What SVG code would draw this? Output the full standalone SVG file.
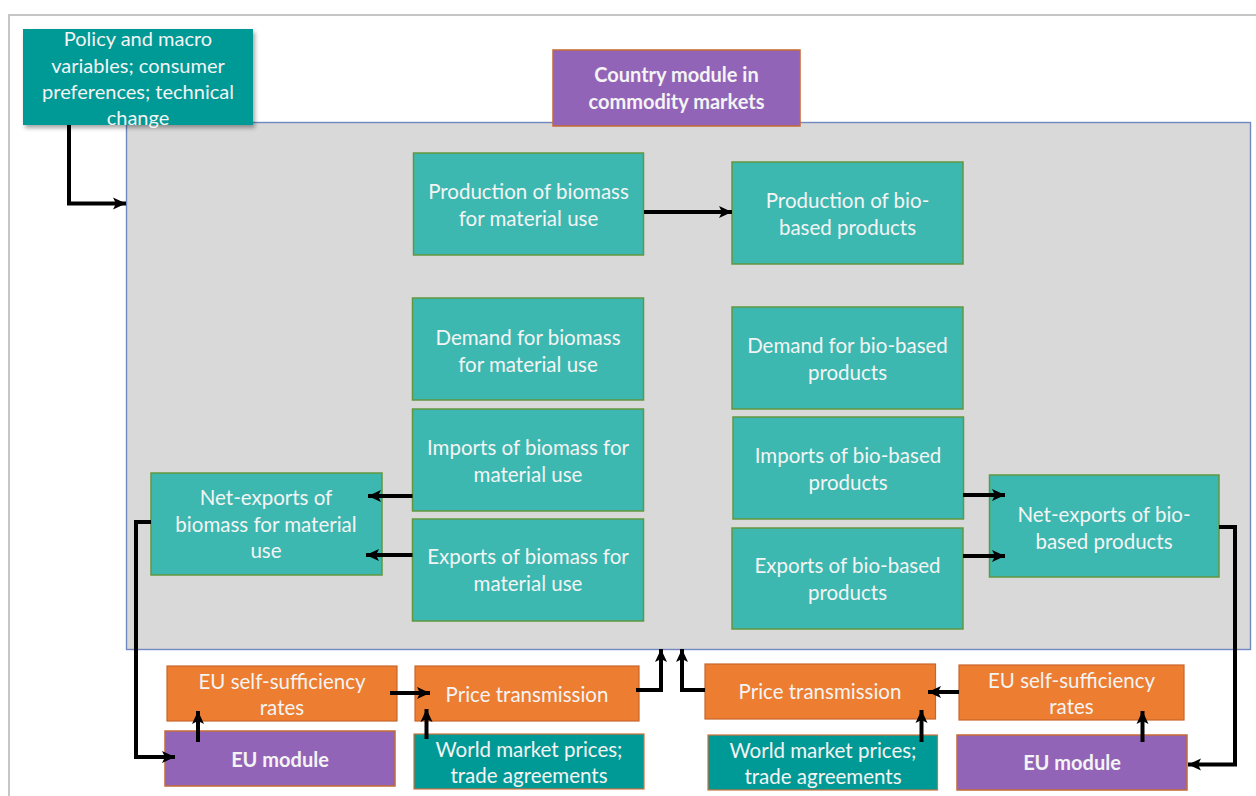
<svg xmlns="http://www.w3.org/2000/svg" width="1256" height="796" viewBox="0 0 1256 796">
  <defs>
    <marker id="arrow" markerUnits="userSpaceOnUse" markerWidth="14" markerHeight="14" viewBox="0 0 14 14" refX="13" refY="7" orient="auto">
      <path d="M0,1 L13,7 L0,13 L3,7 Z" fill="#000"/>
    </marker>
    <filter id="shadow" x="-10%" y="-10%" width="130%" height="140%">
      <feDropShadow dx="2" dy="3" stdDeviation="2" flood-color="#000" flood-opacity="0.35"/>
    </filter>
  </defs>
  <style>
    .frame { fill: none; stroke: #c6c6c6; stroke-width: 2; }
    .area { fill: #d9d9d9; stroke: #7089c0; stroke-width: 1.4; }
    .teal { fill: #3cb8b0; stroke: #62963f; stroke-width: 1.5; }
    .dark { fill: #009a96; stroke: #d0703a; stroke-width: 1.2; }
    .policy { fill: #009a96; }
    .orange { fill: #ed7d31; stroke: #c9652a; stroke-width: 1.2; }
    .purple { fill: #9264b8; stroke: #c56a36; stroke-width: 1.5; }
    text { font-family: Lato, "Noto Sans", "Liberation Sans", sans-serif; font-size: 20.5px; fill: #f4f4f4; text-anchor: middle; dominant-baseline: central; }
    .policy-text { font-size: 20px; }
    .bold { font-weight: bold; font-size: 20px; }
    .conn { fill: none; stroke: #000; stroke-width: 4; stroke-linejoin: miter; marker-end: url(#arrow); }
  </style>

  <!-- page frame -->
  <path class="frame" d="M9,796 V15 H1256"/>

  <!-- country module area -->
  <g id="country-area">
    <rect class="area" x="126.5" y="122.5" width="1124" height="527"/>
  </g>

  <g id="policy">
    <rect class="policy" x="23" y="29" width="230" height="96" filter="url(#shadow)"/>
    <text class="policy-text" x="138" y="38">Policy and macro</text>
    <text class="policy-text" x="138" y="64.5">variables; consumer</text>
    <text class="policy-text" x="138" y="90.5">preferences; technical</text>
    <text class="policy-text" x="138" y="117">change</text>
  </g>

  <g id="country-module">
    <rect class="purple" x="553" y="50" width="247" height="76"/>
    <text class="bold" x="676.5" y="74">Country module in</text>
    <text class="bold" x="676.5" y="101">commodity markets</text>
  </g>

  <g id="prod-biomass">
    <rect class="teal" x="413.5" y="153" width="230" height="102"/>
    <text x="528.5" y="191">Production of biomass</text>
    <text x="528.5" y="217.5">for material use</text>
  </g>

  <g id="prod-biobased">
    <rect class="teal" x="732" y="162" width="231" height="102"/>
    <text x="847.5" y="200">Production of bio-</text>
    <text x="847.5" y="226.5">based products</text>
  </g>

  <g id="demand-biomass">
    <rect class="teal" x="412.5" y="298" width="231" height="102"/>
    <text x="528" y="337">Demand for biomass</text>
    <text x="528" y="363.5">for material use</text>
  </g>

  <g id="demand-biobased">
    <rect class="teal" x="732" y="307" width="231" height="102"/>
    <text x="847.5" y="345">Demand for bio-based</text>
    <text x="847.5" y="371.5">products</text>
  </g>

  <g id="imports-biomass">
    <rect class="teal" x="412.5" y="409" width="231" height="102"/>
    <text x="528" y="447">Imports of biomass for</text>
    <text x="528" y="473.5">material use</text>
  </g>

  <g id="imports-biobased">
    <rect class="teal" x="733" y="417" width="230.5" height="102"/>
    <text x="848" y="455">Imports of bio-based</text>
    <text x="848" y="481.5">products</text>
  </g>

  <g id="exports-biomass">
    <rect class="teal" x="412.5" y="519" width="231" height="102"/>
    <text x="528" y="556">Exports of biomass for</text>
    <text x="528" y="582.5">material use</text>
  </g>

  <g id="exports-biobased">
    <rect class="teal" x="732" y="528" width="231" height="101"/>
    <text x="847.5" y="565">Exports of bio-based</text>
    <text x="847.5" y="591.5">products</text>
  </g>

  <g id="net-biomass">
    <rect class="teal" x="151" y="473" width="231" height="102"/>
    <text x="266" y="497">Net-exports of</text>
    <text x="266" y="523.5">biomass for material</text>
    <text x="266" y="550">use</text>
  </g>

  <g id="net-biobased">
    <rect class="teal" x="989.5" y="475" width="229.5" height="102"/>
    <text x="1104" y="514">Net-exports of bio-</text>
    <text x="1104" y="540.5">based products</text>
  </g>

  <g id="ssr-left">
    <rect class="orange" x="167" y="666" width="230" height="55"/>
    <text x="282" y="681">EU self-sufficiency</text>
    <text x="282" y="707">rates</text>
  </g>

  <g id="price-left">
    <rect class="orange" x="415" y="666" width="224" height="55"/>
    <text x="527" y="693.5">Price transmission</text>
  </g>

  <g id="eu-module-left">
    <rect class="purple" x="165" y="731" width="230" height="55"/>
    <text class="bold" x="280" y="758.5">EU module</text>
  </g>

  <g id="world-left">
    <rect class="dark" x="414" y="734" width="230" height="55"/>
    <text x="529" y="748.5">World market prices;</text>
    <text x="529" y="775">trade agreements</text>
  </g>

  <g id="price-right">
    <rect class="orange" x="705" y="664" width="230.5" height="55"/>
    <text x="820" y="691">Price transmission</text>
  </g>

  <g id="ssr-right">
    <rect class="orange" x="959" y="665" width="225" height="55"/>
    <text x="1071.5" y="680">EU self-sufficiency</text>
    <text x="1071.5" y="706">rates</text>
  </g>

  <g id="world-right">
    <rect class="dark" x="708" y="735" width="229.5" height="55"/>
    <text x="823" y="749.5">World market prices;</text>
    <text x="823" y="776">trade agreements</text>
  </g>

  <g id="eu-module-right">
    <rect class="purple" x="957" y="735" width="230" height="55"/>
    <text class="bold" x="1072" y="762">EU module</text>
  </g>

  <g id="connectors">
    <!-- exogenous drivers into the country module -->
    <path class="conn" d="M69,125 V203.5 H126"/>
    <!-- supply chain -->
    <path class="conn" d="M644,212 H732"/>
    <!-- trade flows to net exports -->
    <path class="conn" d="M412.5,496 H368"/>
    <path class="conn" d="M412.5,555 H366"/>
    <path class="conn" d="M963,495 H1005"/>
    <path class="conn" d="M963,556 H1005"/>
    <!-- net exports to EU modules -->
    <path class="conn" d="M151,522 H136 V757 H175"/>
    <path class="conn" d="M1219,527 H1235 V764.5 H1188"/>
    <!-- EU side, left -->
    <path class="conn" d="M198,742 V711"/>
    <path class="conn" d="M390,693 H430"/>
    <path class="conn" d="M426.5,739 V709"/>
    <path class="conn" d="M636,690 H661 V649"/>
    <!-- EU side, right -->
    <path class="conn" d="M705,690 H682 V649"/>
    <path class="conn" d="M959,692 H928"/>
    <path class="conn" d="M921.5,742 V710"/>
    <path class="conn" d="M1142.5,742 V711"/>
  </g>
</svg>
